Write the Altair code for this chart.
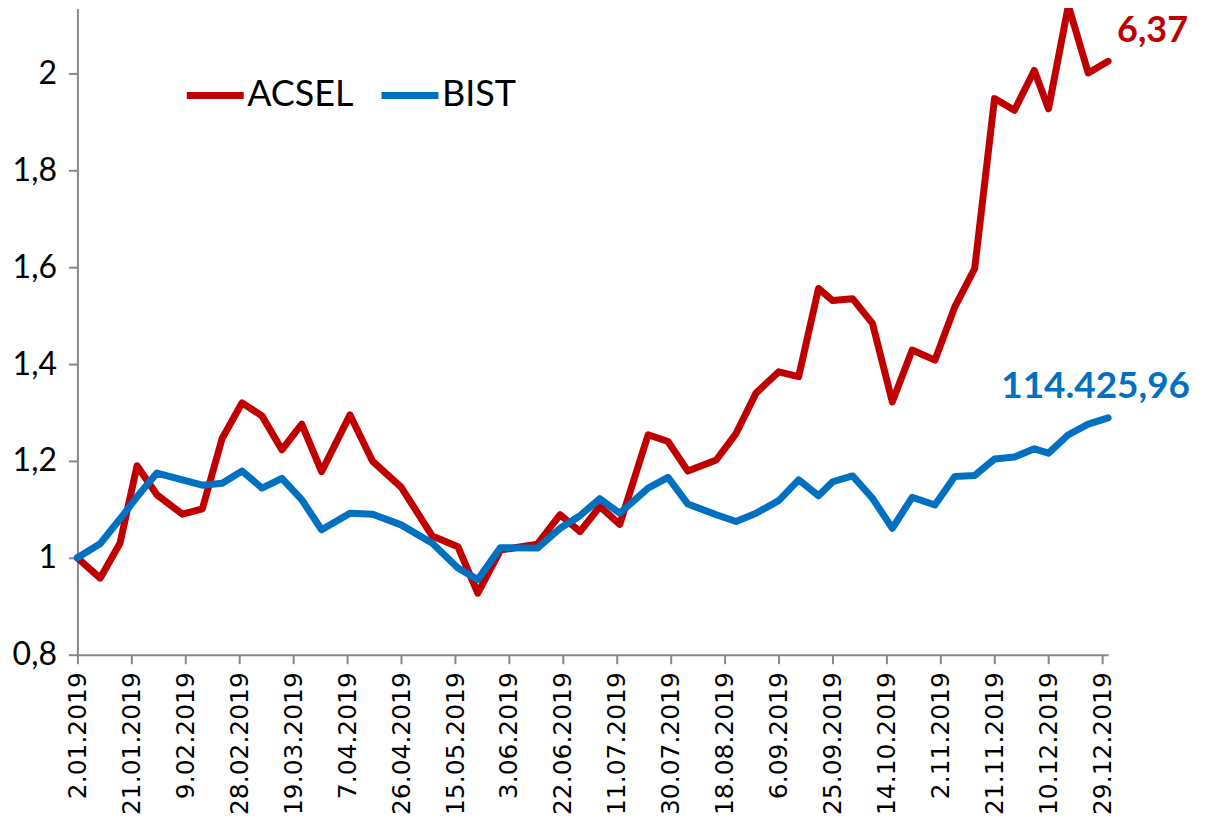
import altair as alt
import pandas as pd

dates = [
    "2019-01-02", "2019-01-10", "2019-01-17", "2019-01-23", "2019-01-30",
    "2019-02-08", "2019-02-15", "2019-02-22", "2019-03-01", "2019-03-08",
    "2019-03-15", "2019-03-22", "2019-03-29", "2019-04-08", "2019-04-16",
    "2019-04-26", "2019-05-07", "2019-05-16", "2019-05-23", "2019-05-31",
    "2019-06-13", "2019-06-21", "2019-06-28", "2019-07-05", "2019-07-12",
    "2019-07-22", "2019-07-29", "2019-08-05", "2019-08-15", "2019-08-22",
    "2019-08-29", "2019-09-06", "2019-09-13", "2019-09-20", "2019-09-25",
    "2019-10-02", "2019-10-09", "2019-10-16", "2019-10-23", "2019-10-31",
    "2019-11-07", "2019-11-14", "2019-11-21", "2019-11-28", "2019-12-05",
    "2019-12-10", "2019-12-17", "2019-12-24", "2019-12-31",
]

acsel = [
    1.000, 0.958, 1.030, 1.190, 1.130, 1.090, 1.101, 1.247, 1.320, 1.293,
    1.223, 1.276, 1.178, 1.295, 1.199, 1.146, 1.045, 1.023, 0.927, 1.016,
    1.028, 1.089, 1.054, 1.106, 1.069, 1.254, 1.240, 1.179, 1.202, 1.257,
    1.340, 1.384, 1.374, 1.556, 1.531, 1.535, 1.484, 1.322, 1.429, 1.408,
    1.518, 1.597, 1.948, 1.924, 2.006, 1.927, 2.140, 2.001, 2.025,
]

bist = [
    1.000, 1.029, 1.080, 1.126, 1.175, 1.161, 1.150, 1.154, 1.179, 1.144,
    1.164, 1.120, 1.058, 1.092, 1.090, 1.068, 1.030, 0.979, 0.955, 1.021,
    1.020, 1.061, 1.087, 1.122, 1.092, 1.144, 1.166, 1.111, 1.089, 1.075,
    1.092, 1.118, 1.161, 1.128, 1.157, 1.169, 1.123, 1.061, 1.125, 1.109,
    1.168, 1.170, 1.204, 1.208, 1.225, 1.216, 1.254, 1.276, 1.289,
]

series_names = ["ACSEL", "BIST"]
series_colors = ["#C00000", "#0070C0"]
end_labels = ["6,37", "114.425,96"]

tick_dates = [
    "2019-01-02", "2019-01-21", "2019-02-09", "2019-02-28", "2019-03-19",
    "2019-04-07", "2019-04-26", "2019-05-15", "2019-06-03", "2019-06-22",
    "2019-07-11", "2019-07-30", "2019-08-18", "2019-09-06", "2019-09-25",
    "2019-10-14", "2019-11-02", "2019-11-21", "2019-12-10", "2019-12-29",
]
y_ticks = [0.8, 1.0, 1.2, 1.4, 1.6, 1.8, 2.0]


def dt(s):
    y, m, d = (int(p) for p in s.split("-"))
    return alt.DateTime(year=y, month=m, date=d, utc=True)


rows = []
for name, vals in zip(series_names, [acsel, bist]):
    for d, v in zip(dates, vals):
        rows.append({"date": d, "value": v, "series": name})
df = pd.DataFrame(rows)

ann = pd.DataFrame({
    "date": [dates[-1], dates[-1]],
    "value": [acsel[-1], bist[-1]],
    "series": series_names,
    "label": end_labels,
})

x_scale = alt.Scale(type="utc", domain=[dt(dates[0]), dt(dates[-1])])
y_scale = alt.Scale(domain=[0.8, 2.134], nice=False, zero=False)

x_enc = alt.X(
    "date:T",
    scale=x_scale,
    axis=alt.Axis(
        values=[dt(s) for s in tick_dates],
        labelExpr="utcFormat(datum.value, '%-d.%m.%Y')",
        labelAngle=-90,
        labelFont="DejaVu Sans",
        labelFontSize=25,
        labelFontWeight="normal",
        labelColor="#000000",
        labelPadding=8,
        tickSize=9,
        tickColor="#888888",
        tickWidth=2,
        domainColor="#888888",
        domainWidth=2,
        grid=False,
        title=None,
        labelOverlap=False,
    ),
)
y_enc = alt.Y(
    "value:Q",
    scale=y_scale,
    axis=alt.Axis(
        values=y_ticks,
        labelExpr="replace(format(datum.value, '.1~f'), '.', ',')",
        labelFont="Lato",
        labelFontSize=32,
        labelColor="#000000",
        labelPadding=12,
        tickSize=9,
        tickColor="#888888",
        tickWidth=2,
        domainColor="#888888",
        domainWidth=2,
        grid=False,
        title=None,
    ),
)

color_scale = alt.Scale(domain=series_names, range=series_colors)

lines = alt.Chart(df).mark_line(
    strokeWidth=7, strokeJoin="round", strokeCap="round"
).encode(
    x=x_enc,
    y=y_enc,
    color=alt.Color(
        "series:N",
        scale=color_scale,
        legend=alt.Legend(
            title=None,
            orient="none",
            legendX=106,
            legendY=55,
            direction="horizontal",
            symbolType="stroke",
            symbolSize=3249,
            symbolStrokeWidth=7,
            labelFont="Lato",
            labelFontSize=36,
            labelColor="#000000",
            labelOffset=0,
            columnPadding=13,
            padding=0,
        ),
    ),
)

ann_acsel = alt.Chart(ann[ann.series == "ACSEL"]).mark_text(
    font="Lato", fontSize=36, fontWeight="bold", color=series_colors[0],
    align="left", baseline="middle", dx=9, dy=-30,
).encode(x=alt.X("date:T", scale=x_scale), y=alt.Y("value:Q", scale=y_scale), text="label:N")

ann_bist = alt.Chart(ann[ann.series == "BIST"]).mark_text(
    font="Lato", fontSize=37, fontWeight="bold", color=series_colors[1],
    align="right", baseline="middle", dx=82, dy=-31,
).encode(x=alt.X("date:T", scale=x_scale), y=alt.Y("value:Q", scale=y_scale), text="label:N")

chart = alt.layer(lines, ann_acsel, ann_bist).properties(
    width=1032,
    height=647,
    autosize=alt.AutoSizeParams(type="none"),
    padding={"left": 69.5, "top": 0, "right": 99, "bottom": 160},
    background="#ffffff",
).configure_view(stroke=None)

chart.save("out.html", embed_options={"renderer": "svg", "actions": False})
